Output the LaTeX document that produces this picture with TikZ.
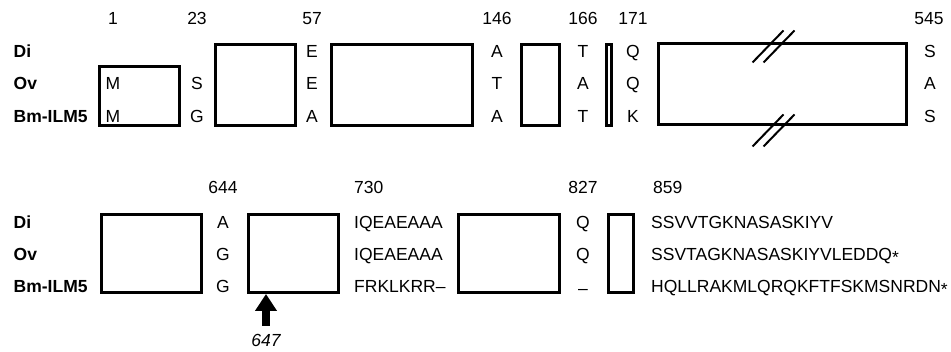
\documentclass[tikz,border=0pt]{standalone}
\usepackage{fontspec}
\setmainfont{Liberation Sans}
\usetikzlibrary{arrows.meta,calc}
\newcommand{\figfont}{\fontsize{17.5}{20}\selectfont}

\begin{document}
\begin{tikzpicture}[
  x=1pt, y=-1pt,
  dombox/.style={
    draw,
    line width=3pt,
    inner sep=0pt,
    minimum height=81pt
  },
  lowbox/.style={dombox, minimum height=78pt},
  species/.style={anchor=base west, inner sep=0pt, font=\figfont\bfseries},
  res/.style={anchor=base, inner sep=0pt, font=\figfont},
  seq/.style={anchor=base west, inner sep=0pt, font=\figfont},
  numlbl/.style={anchor=base, inner sep=0pt, font=\figfont},
  cut/.style={line width=2pt},
  site/.style={-{Triangle[width=21pt,length=17pt]}, line width=8.5pt}
]
\useasboundingbox (0,0) rectangle (951,352);

\node[species] (di) at (13.5,58) {Di};
\node[species] (ov) at (13.5,90) {Ov};
\node[species] (bm) at (13.5,123) {Bm-ILM5};

\node[numlbl] (n1) at (113,25) {1};
\node[numlbl] (n23) at (197,25) {23};
\node[numlbl] (n57) at (312,25) {57};
\node[numlbl] (n146) at (497,25) {146};
\node[numlbl] (n166) at (583,25) {166};
\node[numlbl] (n171) at (633,25) {171};
\node[numlbl] (n545) at (929,25) {545};

\node[dombox, minimum width=80pt, minimum height=59pt] (sig) at (139.5,96) {};
\node[dombox, minimum width=80pt] (dom1) at (255.5,85) {};
\node[dombox, minimum width=141pt] (dom2) at (402,85) {};
\node[dombox, minimum width=38pt] (dom3) at (540.5,85) {};
\node[dombox, minimum width=5pt] (dom4) at (609,85) {};
\node[dombox, minimum width=248pt] (dom5) at (782.5,84.5) {};

\node[res] (m1ov) at (113,90) {M};
\node[res] (m1bm) at (113,123) {M};
\node[res] (r23ov) at (197,90) {S};
\node[res] (r23bm) at (197,123) {G};
\node[res] (r57di) at (312,58) {E};
\node[res] (r57ov) at (312,90) {E};
\node[res] (r57bm) at (312,123) {A};
\node[res] (r146di) at (497,58) {A};
\node[res] (r146ov) at (497,90) {T};
\node[res] (r146bm) at (497,123) {A};
\node[res] (r166di) at (583,58) {T};
\node[res] (r166ov) at (583,90) {A};
\node[res] (r166bm) at (583,123) {T};
\node[res] (r171di) at (633,58) {Q};
\node[res] (r171ov) at (633,90) {Q};
\node[res] (r171bm) at (633,123) {K};
\node[res] (r545di) at (930,58) {S};
\node[res] (r545ov) at (930,90) {A};
\node[res] (r545bm) at (930,123) {S};

\coordinate (cuta) at ($(dom5.north)+(-11,0)$);
\coordinate (cutb) at ($(dom5.north)+(0,0)$);
\coordinate (cutc) at ($(dom5.south)+(-11,0)$);
\coordinate (cutd) at ($(dom5.south)+(0,0)$);
\draw[cut] ($(cuta)+(-19,20)$) -- ($(cuta)+(12,-12)$);
\draw[cut] ($(cutb)+(-19,20)$) -- ($(cutb)+(12,-12)$);
\draw[cut] ($(cutc)+(-19,20)$) -- ($(cutc)+(12,-12)$);
\draw[cut] ($(cutd)+(-19,20)$) -- ($(cutd)+(12,-12)$);

\node[species] (di2) at (13.5,229) {Di};
\node[species] (ov2) at (13.5,261) {Ov};
\node[species] (bm2) at (13.5,293) {Bm-ILM5};

\node[numlbl] (n644) at (223,194) {644};
\node[seq] (n730) at (354,194) {730};
\node[numlbl] (n827) at (583,194) {827};
\node[seq] (n859) at (653,194) {859};

\node[lowbox, minimum width=100pt] (dom6) at (151.5,253.5) {};
\node[lowbox, minimum width=90pt] (dom7) at (293.5,253.5) {};
\node[lowbox, minimum width=101pt] (dom8) at (509,253.5) {};
\node[lowbox, minimum width=25pt] (dom9) at (621,253.5) {};

\node[res] (r644di) at (223,229) {A};
\node[res] (r644ov) at (223,261) {G};
\node[res] (r644bm) at (223,293) {G};
\node[seq] (s730di) at (354,229) {IQEAEAAA};
\node[seq] (s730ov) at (354,261) {IQEAEAAA};
\node[seq] (s730bm) at (354,293) {FRKLKRR--};
\node[res] (r827di) at (583,229) {Q};
\node[res] (r827ov) at (583,261) {Q};
\node[res] (r827bm) at (583,293) {\raisebox{-2pt}{--}};
\node[seq] (s859di) at (651,229) {SSVVTGKNASASKIYV};
\node[seq] (s859ov) at (651,261) {SSVTAGKNASASKIYVLEDDQ\raisebox{-3pt}{*}};
\node[seq] (s859bm) at (651,293) {HQLLRAKMLQRQKFTFSKMSNRDN\raisebox{-3pt}{*}};

\node[numlbl] (p647) at (266,347) {\itshape 647};
\draw[site] ([yshift=9pt]p647.north) -- (p647.north |- dom7.south);
\end{tikzpicture}
\end{document}
